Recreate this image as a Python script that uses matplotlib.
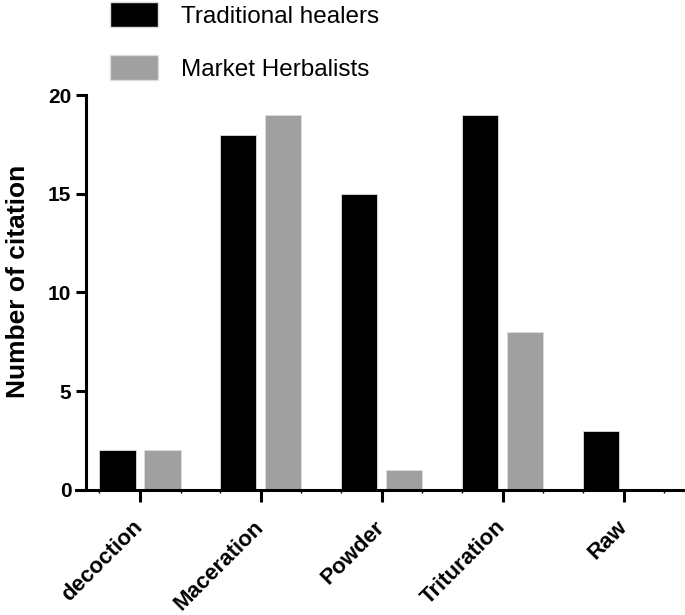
import matplotlib.pyplot as plt
import numpy as np
from matplotlib.patches import Patch

plt.rcParams['font.family'] = ['Liberation Sans', 'DejaVu Sans']

# Dati
categories = ['decoction', 'Maceration', 'Powder', 'Trituration', 'Raw']
healers = [2, 18, 15, 19, 3]
herbalists = [2, 19, 1, 8, 0]
y_ticks = [0, 5, 10, 15, 20]

fig = plt.figure(figsize=(6.85, 6.15), dpi=100)
ax = fig.add_axes([0.1255, 0.2033, 0.8715, 0.6422])

x = np.arange(len(categories))
w = 0.30
off = 0.186
ax.bar(x - off, healers, w, color='black', edgecolor='#dddddd', linewidth=0.6)
ax.bar(x + off, herbalists, w, color='#a0a0a0', edgecolor='#dddddd', linewidth=0.6)

ax.set_xlim(-0.446, 4.49)
ax.set_ylim(0, 20)
ax.set_yticks(y_ticks)
ax.set_xticks(x)
ax.set_xticklabels(categories, rotation=45, ha='right', va='center',
                   rotation_mode='anchor', fontweight='bold', fontsize=16)
ax.set_xticks(np.concatenate([x - off - w / 2, x + off + w / 2]), minor=True)
for lab in ax.get_yticklabels():
    lab.set_fontweight('bold')
ax.tick_params(axis='y', labelsize=15, width=2.2, length=7)
ax.tick_params(axis='x', which='major', width=2.2, length=8.5, pad=16)
ax.tick_params(axis='x', which='minor', width=1.0, length=2)

for s in ['top', 'right']:
    ax.spines[s].set_visible(False)
ax.spines['left'].set_linewidth(2.2)
ax.spines['bottom'].set_linewidth(2.2)
ax.spines['bottom'].set_bounds(-0.53, 4.49)

ax.set_ylabel('Number of citation', fontsize=19, fontweight='bold')
ax.yaxis.set_label_coords(-0.094, 0.527)

handles = [Patch(facecolor='black', edgecolor='#dddddd', label='Traditional healers'),
           Patch(facecolor='#a0a0a0', edgecolor='#dddddd', label='Market Herbalists')]
fig.legend(handles=handles, loc='upper left', bbox_to_anchor=(0.1606, 0.997),
           frameon=False, fontsize=17.5, handlelength=1.98, handleheight=1.2,
           handletextpad=0.95, labelspacing=1.15, borderaxespad=0, borderpad=0)

plt.savefig('out.png', dpi=100)
